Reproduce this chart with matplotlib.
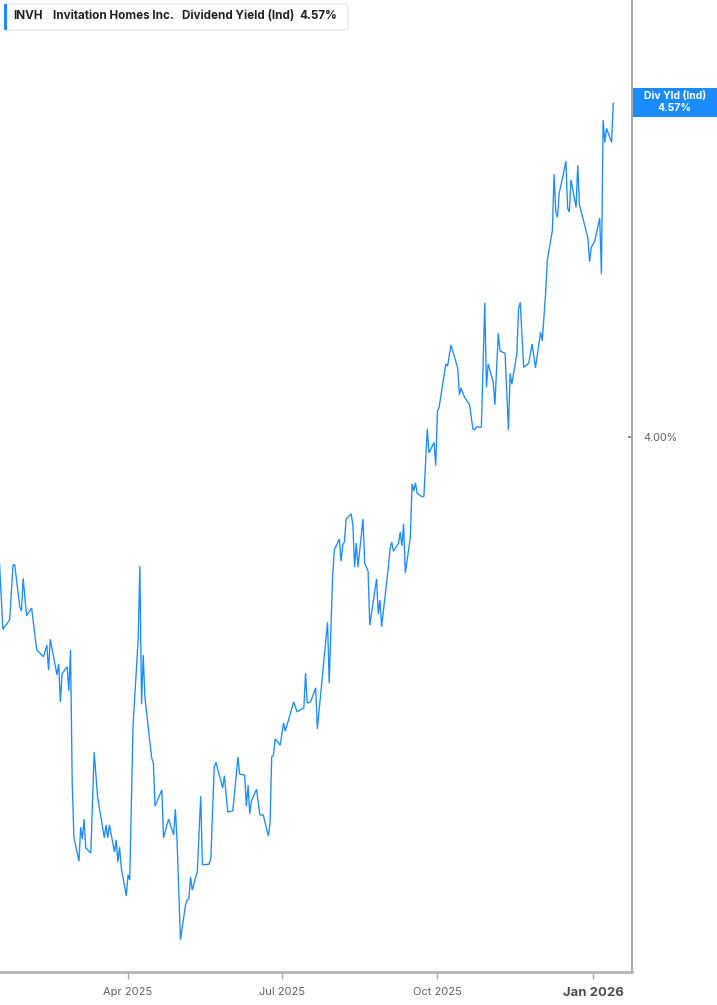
import matplotlib
matplotlib.use("Agg")
import matplotlib.pyplot as plt
from matplotlib.patches import FancyBboxPatch, Rectangle
import pandas as pd

dates = [
    "2025-01-15", "2025-01-17", "2025-01-21", "2025-01-23", "2025-01-24", "2025-01-27",
    "2025-01-28", "2025-01-29", "2025-01-31", "2025-02-03", "2025-02-06", "2025-02-10",
    "2025-02-12", "2025-02-13", "2025-02-14", "2025-02-18", "2025-02-19", "2025-02-20",
    "2025-02-21", "2025-02-24", "2025-02-25", "2025-02-26", "2025-02-27", "2025-02-28",
    "2025-03-03", "2025-03-04", "2025-03-05", "2025-03-06", "2025-03-07", "2025-03-10",
    "2025-03-12", "2025-03-14", "2025-03-18", "2025-03-19", "2025-03-20", "2025-03-21",
    "2025-03-24", "2025-03-25", "2025-03-26", "2025-03-27", "2025-03-28", "2025-03-31",
    "2025-04-01", "2025-04-02", "2025-04-04", "2025-04-07", "2025-04-08", "2025-04-09",
    "2025-04-10", "2025-04-11", "2025-04-15", "2025-04-16", "2025-04-17", "2025-04-21",
    "2025-04-22", "2025-04-25", "2025-04-28", "2025-04-29", "2025-04-30", "2025-05-02",
    "2025-05-05", "2025-05-06", "2025-05-07", "2025-05-08", "2025-05-09", "2025-05-12",
    "2025-05-14", "2025-05-15", "2025-05-19", "2025-05-20", "2025-05-22", "2025-05-23",
    "2025-05-27", "2025-05-28", "2025-05-30", "2025-06-02", "2025-06-05", "2025-06-06",
    "2025-06-09", "2025-06-10", "2025-06-11", "2025-06-12", "2025-06-13", "2025-06-16",
    "2025-06-18", "2025-06-20", "2025-06-23", "2025-06-24", "2025-06-25", "2025-06-26",
    "2025-06-27", "2025-06-30", "2025-07-02", "2025-07-03", "2025-07-08", "2025-07-10",
    "2025-07-14", "2025-07-15", "2025-07-16", "2025-07-18", "2025-07-21", "2025-07-22",
    "2025-07-24", "2025-07-28", "2025-07-29", "2025-07-31", "2025-08-01", "2025-08-04",
    "2025-08-05", "2025-08-06", "2025-08-07", "2025-08-08", "2025-08-11", "2025-08-12",
    "2025-08-13", "2025-08-14", "2025-08-15", "2025-08-18", "2025-08-19", "2025-08-21",
    "2025-08-22", "2025-08-26", "2025-08-27", "2025-08-28", "2025-08-29", "2025-09-02",
    "2025-09-03", "2025-09-04", "2025-09-05", "2025-09-08", "2025-09-09", "2025-09-10",
    "2025-09-11", "2025-09-12", "2025-09-15", "2025-09-16", "2025-09-17", "2025-09-18",
    "2025-09-19", "2025-09-22", "2025-09-23", "2025-09-25", "2025-09-26", "2025-09-29",
    "2025-09-30", "2025-10-01", "2025-10-02", "2025-10-06", "2025-10-07", "2025-10-09",
    "2025-10-13", "2025-10-14", "2025-10-15", "2025-10-17", "2025-10-20", "2025-10-22",
    "2025-10-23", "2025-10-24", "2025-10-27", "2025-10-29", "2025-10-30", "2025-10-31",
    "2025-11-03", "2025-11-04", "2025-11-06", "2025-11-07", "2025-11-10", "2025-11-12",
    "2025-11-13", "2025-11-14", "2025-11-17", "2025-11-18", "2025-11-19", "2025-11-21",
    "2025-11-24", "2025-11-26", "2025-11-28", "2025-12-01", "2025-12-02", "2025-12-04",
    "2025-12-05", "2025-12-08", "2025-12-09", "2025-12-10", "2025-12-11", "2025-12-12",
    "2025-12-15", "2025-12-16", "2025-12-17", "2025-12-18", "2025-12-19", "2025-12-22",
    "2025-12-23", "2025-12-24", "2025-12-26", "2025-12-29", "2025-12-30", "2025-12-31",
    "2026-01-02", "2026-01-05", "2026-01-06", "2026-01-07", "2026-01-08", "2026-01-09",
    "2026-01-12", "2026-01-13",
]

div_yield = [
    3.785, 3.672, 3.688, 3.782, 3.782, 3.710,
    3.703, 3.759, 3.695, 3.708, 3.637, 3.625,
    3.645, 3.602, 3.655, 3.594, 3.613, 3.548,
    3.596, 3.608, 3.567, 3.637, 3.410, 3.317,
    3.276, 3.334, 3.314, 3.348, 3.299, 3.290,
    3.462, 3.386, 3.316, 3.338, 3.316, 3.338,
    3.292, 3.312, 3.275, 3.300, 3.265, 3.217,
    3.253, 3.244, 3.509, 3.654, 3.780, 3.544,
    3.628, 3.556, 3.452, 3.444, 3.370, 3.398,
    3.316, 3.348, 3.321, 3.365, 3.312, 3.142,
    3.201, 3.210, 3.212, 3.249, 3.227, 3.259,
    3.387, 3.270, 3.271, 3.282, 3.437, 3.445,
    3.401, 3.422, 3.360, 3.362, 3.454, 3.425,
    3.423, 3.370, 3.406, 3.357, 3.379, 3.399,
    3.355, 3.355, 3.319, 3.341, 3.454, 3.457,
    3.485, 3.474, 3.512, 3.498, 3.548, 3.531,
    3.538, 3.597, 3.546, 3.548, 3.572, 3.502,
    3.563, 3.684, 3.580, 3.761, 3.807, 3.826,
    3.788, 3.816, 3.821, 3.860, 3.869, 3.850,
    3.778, 3.819, 3.778, 3.860, 3.785, 3.771,
    3.679, 3.758, 3.698, 3.722, 3.676, 3.778,
    3.809, 3.821, 3.805, 3.819, 3.838, 3.814,
    3.852, 3.768, 3.829, 3.920, 3.908, 3.922,
    3.904, 3.898, 3.899, 4.014, 3.973, 3.991,
    3.951, 4.044, 4.051, 4.125, 4.121, 4.157,
    4.118, 4.072, 4.084, 4.068, 4.055, 4.014,
    4.012, 4.017, 4.017, 4.229, 4.085, 4.125,
    4.094, 4.055, 4.177, 4.147, 4.143, 4.012,
    4.109, 4.090, 4.143, 4.220, 4.230, 4.119,
    4.126, 4.159, 4.118, 4.179, 4.164, 4.246,
    4.302, 4.353, 4.449, 4.384, 4.375, 4.416,
    4.456, 4.471, 4.391, 4.384, 4.439, 4.392,
    4.464, 4.396, 4.374, 4.340, 4.299, 4.324,
    4.334, 4.374, 4.278, 4.541, 4.503, 4.527,
    4.503, 4.570,
]

tick_dates = ["2025-04-01", "2025-07-01", "2025-10-01", "2026-01-01"]
tick_labels = ["Apr 2025", "Jul 2025", "Oct 2025", "Jan 2026"]
y_ticks = [4.00]

ticker_name = "INVH"
company = "Invitation Homes Inc."
metric = "Dividend Yield (Ind)"
last_label = "4.57%"

BLUE = "#1a8cff"
W, H = 717, 1005

plt.rcParams["font.family"] = ["Inter", "DejaVu Sans"]

fig = plt.figure(figsize=(W / 100, H / 100), dpi=100)
ax = fig.add_axes([0, 1 - 972 / H, 632 / W, 972 / H])

x = pd.to_datetime(dates)
ax.plot(x, div_yield, color=BLUE, linewidth=0.95, solid_joinstyle="miter")

ax.set_xlim(pd.Timestamp("2025-01-15 07:00"), pd.Timestamp("2026-01-24 02:00"))
ax.set_ylim(3.087, 4.746)

for s in ["left", "top"]:
    ax.spines[s].set_visible(False)
ax.spines["right"].set_color("#a8a8a8")
ax.spines["right"].set_linewidth(1.4)
ax.spines["bottom"].set_color("#b4b4b4")
ax.spines["bottom"].set_linewidth(2.0)

ax.set_xticks(pd.to_datetime(tick_dates))
ax.set_xticklabels(tick_labels)
ax.tick_params(axis="x", direction="out", length=5, width=1, color="#a8a8a8",
               labelsize=8, labelcolor="#5f6368", pad=6)
xl = ax.get_xticklabels()
xl[-1].set_fontweight("bold")
xl[-1].set_fontsize(9.5)
xl[-1].set_color("#4a4f55")

ax.yaxis.tick_right()
ax.set_yticks(y_ticks)
ax.set_yticklabels([f"{v:.2f}%" for v in y_ticks])
ax.tick_params(axis="y", direction="in", length=3, width=1.2, color="#777777",
               labelsize=7.8, labelcolor="#5f6368", pad=8)


def fx(px):
    return px / W


def fy(py):
    return 1 - py / H


# header box
box = FancyBboxPatch((fx(5), fy(30)), fx(343), 26 / H,
                     boxstyle="round,pad=0,rounding_size=0.004",
                     transform=fig.transFigure, facecolor="white",
                     edgecolor="#e3e3e3", linewidth=0.8)
fig.patches.append(box)
fig.patches.append(Rectangle((fx(4), fy(30)), fx(3), 26 / H,
                             transform=fig.transFigure, facecolor=BLUE,
                             edgecolor="none"))
hdr = dict(fontsize=8.4, fontweight="bold", color="#1f2328", va="center", ha="left")
fig.text(fx(13), fy(16), ticker_name, **hdr)
fig.text(fx(53), fy(16), company, **hdr)
fig.text(fx(182), fy(16), metric, **hdr)
fig.text(fx(299), fy(16), last_label, **hdr)

# last value label on the right axis
fig.patches.append(Rectangle((fx(633), fy(117)), fx(84), 29 / H,
                             transform=fig.transFigure, facecolor=BLUE,
                             edgecolor="none"))
fig.text(fx(675), fy(96), "Div Yld (Ind)", fontsize=7.5, fontweight="bold",
         color="white", ha="center", va="center")
fig.text(fx(675), fy(108), last_label, fontsize=7.5, fontweight="bold",
         color="white", ha="center", va="center")

fig.savefig("out.png", dpi=100)
